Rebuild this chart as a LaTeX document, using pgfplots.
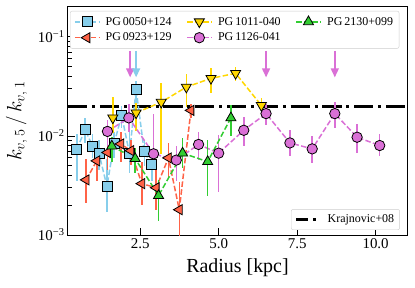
\documentclass[border=0pt]{standalone}
\usepackage{fontspec}
\setmainfont{Liberation Serif}
\usepackage{pgfplots}
\pgfplotsset{compat=1.18}
\usepackage{pgfplotstable}
\usetikzlibrary{arrows.meta}
\definecolor{cSky}{HTML}{87CEEB}
\definecolor{cTom}{HTML}{FF6347}
\definecolor{cGold}{HTML}{FFD700}
\definecolor{cOrc}{HTML}{DA70D6}
\definecolor{cLime}{HTML}{32CD32}

\pgfplotstableread{
x y ep em
0.48 0.0073 0.0032 0.0038
0.745 0.0116 0.0034 0.0031
0.98 0.0079 0.0026 0.0019
1.19 0.0066 0.0024 0.0021
1.44 0.0031 0.0027 0.0014
1.67 0.0084 0.0026 0.0024
1.91 0.0161 0.0039 0.0041
2.16 0.0066 0.0080 0.0024
2.37 0.0295 0.0065 0.0131
2.63 0.0069 0.0021 0.0019
2.87 0.0051 0.0016 0.0016
}\tabA
\pgfplotstableread{
x y ep em
0.777 0.0036 0.0022 0.0015
1.117 0.0056 0.0022 0.0021
1.457 0.0068 0.0022 0.0023
1.883 0.0083 0.0027 0.0028
2.20 0.0071 0.0020 0.0020
2.55 0.0033 0.0022 0.0013
3.01 0.0030 0.0015 0.0012
3.40 0.0060 0.0025 0.0022
3.745 0.0018 0.0016 0.0010
4.117 0.0181 0.0029 0.0031
}\tabB
\pgfplotstableread{
x y ep em
1.628 0.0152 0.0093 0.0045
2.37 0.0171 0.0044 0.0059
3.17 0.0219 0.0121 0.0154
3.97 0.0311 0.0109 0.0113
4.755 0.0381 0.0099 0.0111
5.54 0.0428 0.0072 0.0068
6.36 0.0203 0.0037 0.0043
}\tabC
\pgfplotstableread{
x y ep em
1.457 0.0111 0.0034 0.0031
2.138 0.0152 0.0058 0.0042
2.926 0.0066 0.0099 0.0021
3.65 0.0057 0.0023 0.0022
4.36 0.0082 0.0028 0.0025
5.0 0.0067 0.0035 0.0040
5.80 0.0114 0.0041 0.0034
6.51 0.0168 0.0042 0.0038
7.27 0.0085 0.0030 0.0023
7.98 0.0074 0.0026 0.0021
8.70 0.0168 0.0052 0.0048
9.41 0.0097 0.0035 0.0029
10.13 0.0080 0.0025 0.0018
}\tabD
\pgfplotstableread{
x y ep em
1.596 0.0079 0.0019 0.0024
2.34 0.0059 0.0016 0.0017
3.085 0.0025 0.0011 0.0011
3.85 0.0067 0.0028 0.0020
4.65 0.0055 0.0037 0.0030
5.39 0.0152 0.0051 0.0053
}\tabE

\tikzset{mk/.style={solid, draw=black, line width=0.8bp, fill=#1}}
\pgfplotsset{
  ser/.style={#1, line width=1.5bp, dash pattern=on 5.5bp off 2.4bp,
    error bars/y dir=both, error bars/y explicit, error bars/error mark=none,
    error bars/error bar style={solid, line width=1.5bp, #1}},
  wideimg/.style={legend image code/.code={%
    \draw[mark repeat=2, mark phase=2] plot coordinates {(0bp,0bp) (12bp,0bp) (24bp,0bp)};}},
}

\begin{document}
\begin{tikzpicture}
\begin{axis}[
  name=main,
  scale only axis, width=339bp, height=228bp,
  xmin=0.2, xmax=11.0, ymin=1e-3, ymax=0.2, ymode=log,
  tick pos=left, tick align=inside,
  major tick length=7bp, minor tick length=4bp,
  every tick/.style={black, line width=0.8bp},
  axis line style={line width=1bp},
  xtick={2.5,5,7.5,10},
  xticklabel style={/pgf/number format/.cd, fixed, fixed zerofill, precision=1, assume math mode=true},
  ytick={0.001,0.01,0.1},
  yticklabels={10\textsuperscript{−3},10\textsuperscript{−2},10\textsuperscript{−1}},
  tick label style={font=\fontsize{15}{18}\selectfont},
  xlabel={Radius [kpc]},
  ylabel={$k_{v,\,5}\,/\,k_{v,\,1}$},
  xlabel style={font=\fontsize{20}{24}\selectfont, at={(axis description cs:0.5,-0.1447)}, anchor=center},
  ylabel style={font=\fontsize{20}{24}\selectfont, at={(axis description cs:-0.152,0.5)}, anchor=center},
  legend columns=3,
  legend style={at={(axis description cs:0.006,0.983)}, anchor=north west,
    font=\fontsize{12}{14}\selectfont, draw=black!20, rounded corners=2bp,
    fill=white, row sep=2.5bp, inner sep=4bp,
    /tikz/every odd column/.append style={column sep=4bp},
    /tikz/every even column/.append style={column sep=13bp}},
]
\addplot[black, line width=3bp, dash pattern=on 19.2bp off 4.8bp on 3bp off 4.8bp, forget plot] coordinates {(0.2,0.02) (11.0,0.02)};

\addplot[ser=cSky, mark=square*, mark size=5bp, mark options={mk=cSky}, forget plot] table[x=x,y=y,y error plus=ep,y error minus=em]{\tabA};
\addplot[ser=cTom, mark=triangle*, mark size=5.8bp, mark options={mk=cTom, rotate=90}, forget plot] table[x=x,y=y,y error plus=ep,y error minus=em]{\tabB};
\addplot[ser=cGold, mark=triangle*, mark size=5.8bp, mark options={mk=cGold, rotate=180}, forget plot] table[x=x,y=y,y error plus=ep,y error minus=em]{\tabC};
\addplot[ser=cOrc, mark=*, mark size=5.2bp, mark options={mk=cOrc}, forget plot] table[x=x,y=y,y error plus=ep,y error minus=em]{\tabD};
\addplot[ser=cLime, mark=triangle*, mark size=5.8bp, mark options={mk=cLime}, forget plot] table[x=x,y=y,y error plus=ep,y error minus=em]{\tabE};

\addplot[cOrc, line width=1.5bp, -{Triangle[width=8bp,length=9bp]}, forget plot] coordinates {(2.18,0.072) (2.18,0.039)};
\addplot[cSky, line width=1.5bp, -{Triangle[width=8bp,length=9bp]}, forget plot] coordinates {(2.37,0.072) (2.37,0.039)};
\addplot[cOrc, line width=1.5bp, -{Triangle[width=8bp,length=9bp]}, forget plot] coordinates {(6.51,0.072) (6.51,0.039)};
\addplot[cOrc, line width=1.5bp, -{Triangle[width=8bp,length=9bp]}, forget plot] coordinates {(8.70,0.072) (8.70,0.039)};

\addlegendimage{wideimg, cSky, line width=1.5bp, dash pattern=on 5.5bp off 2.4bp, mark=square*, mark size=5bp, mark options={mk=cSky}}
\addlegendentry{PG\,0050+124}
\addlegendimage{wideimg, cGold, line width=1.5bp, dash pattern=on 5.5bp off 2.4bp, mark=triangle*, mark size=5.8bp, mark options={mk=cGold, rotate=180}}
\addlegendentry{PG\,1011-040}
\addlegendimage{wideimg, cLime, line width=1.5bp, dash pattern=on 5.5bp off 2.4bp, mark=triangle*, mark size=5.8bp, mark options={mk=cLime}}
\addlegendentry{PG\,2130+099}
\addlegendimage{wideimg, cTom, line width=1.5bp, dash pattern=on 5.5bp off 2.4bp, mark=triangle*, mark size=5.8bp, mark options={mk=cTom, rotate=90}}
\addlegendentry{PG\,0923+129}
\addlegendimage{wideimg, cOrc, line width=1.5bp, dash pattern=on 5.5bp off 2.4bp, mark=*, mark size=5.2bp, mark options={mk=cOrc}}
\addlegendentry{PG\,1126-041}
\end{axis}
\begin{axis}[
  scale only axis, width=339bp, height=228bp,
  xmin=0.2, xmax=11.0, ymin=1e-3, ymax=0.2, ymode=log,
  hide axis,
  legend style={at={(axis description cs:0.979,0.022)}, anchor=south east,
    font=\fontsize{12}{14}\selectfont, draw=black!20, rounded corners=2bp,
    fill=white, inner sep=3.5bp,
    /tikz/every odd column/.append style={column sep=4bp}},
]
\addlegendimage{black, line width=3bp, dash pattern=on 12bp off 4.8bp on 3bp off 4.8bp,
  legend image code/.code={\draw (0bp,0bp) -- (24bp,0bp);}}
\addlegendentry{Krajnovic+08}
\end{axis}
\pgfresetboundingbox
\path ([xshift=-68bp,yshift=-53bp]main.south west) rectangle ([xshift=8bp,yshift=7bp]main.north east);
\end{tikzpicture}
\end{document}
